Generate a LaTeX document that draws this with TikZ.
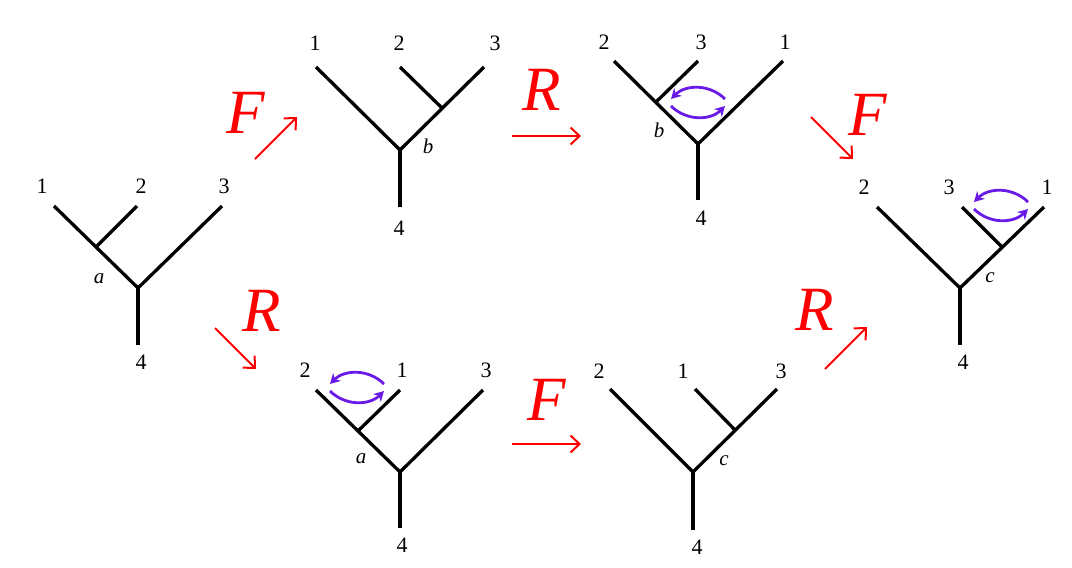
\documentclass[tikz,border=0pt]{standalone}
\usepackage{fontspec}
\setmainfont{Liberation Serif}
\usetikzlibrary{arrows.meta}
\definecolor{swapviolet}{HTML}{6A1AE6}
\tikzset{
  branch/.style={line width=3.3pt},
  num/.style={inner sep=0pt, font=\fontsize{22}{22}\selectfont},
  vtx/.style={inner sep=0pt, font=\itshape\fontsize{21}{21}\selectfont},
  move/.style={red, line width=2pt, -{Straight Barb[length=9pt,width=17pt,line width=2pt]}},
  movename/.style={red, inner sep=0pt, font=\itshape\fontsize{63}{63}\selectfont},
  swap/.style={swapviolet, line width=2.8pt, -{Stealth[length=10pt,width=11pt]}}
}
\begin{document}
\begin{tikzpicture}[x=1pt, y=-1pt]
    \useasboundingbox (0,0) rectangle (1072,568);

    % Tree a (left)
    \coordinate (a1) at (54,206);
    \coordinate (a2) at (137,206);
    \coordinate (a3) at (222,206);
    \coordinate (ai) at (96,247);
    \coordinate (ar) at (138,288);
    \coordinate (a4) at (138,345);
    \draw[branch] (a1) -- (ar) -- (a3);
    \draw[branch] (ai) -- (a2);
    \draw[branch] (ar) -- (a4);
    \node[num] (la1) at (42,186) {1};
    \node[num] (la2) at (141,186) {2};
    \node[num] (la3) at (224,186) {3};
    \node[num] (la4) at (141,362) {4};
    \node[vtx] (lai) at (99,279) {a};

    % Tree b (top)
    \coordinate (b1) at (316,67);
    \coordinate (b2) at (400,67);
    \coordinate (b3) at (484,67);
    \coordinate (bi) at (442,108);
    \coordinate (br) at (400,150);
    \coordinate (b4) at (400,207);
    \draw[branch] (b1) -- (br) -- (b3);
    \draw[branch] (bi) -- (b2);
    \draw[branch] (br) -- (b4);
    \node[num] (lb1) at (315,43) {1};
    \node[num] (lb2) at (399,43) {2};
    \node[num] (lb3) at (495,43) {3};
    \node[num] (lb4) at (399,228) {4};
    \node[vtx] (lbi) at (428,146) {b};

    % Tree b' (top right)
    \coordinate (c2) at (614,61);
    \coordinate (c3) at (698,61);
    \coordinate (c1) at (783,61);
    \coordinate (ci) at (656,102);
    \coordinate (cr) at (698,144);
    \coordinate (c4) at (698,200);
    \draw[branch] (c2) -- (cr) -- (c1);
    \draw[branch] (ci) -- (c3);
    \draw[branch] (cr) -- (c4);
    \node[num] (lc2) at (604,42) {2};
    \node[num] (lc3) at (701,42) {3};
    \node[num] (lc1) at (785,42) {1};
    \node[num] (lc4) at (701,218) {4};
    \node[vtx] (lci) at (659,130) {b};
    \coordinate (sc-l) at (671,102);
    \coordinate (sc-r) at (725,102);
    \draw[swap] ([yshift=3pt]sc-r) to[bend right=45] ([yshift=3pt]sc-l);
    \draw[swap] ([yshift=-4pt]sc-l) to[bend right=45] ([yshift=-4pt]sc-r);

    % Tree c' (right)
    \coordinate (d2) at (877,207);
    \coordinate (d3) at (962,207);
    \coordinate (d1) at (1044,207);
    \coordinate (di) at (1002,247);
    \coordinate (dr) at (960,288);
    \coordinate (d4) at (960,345);
    \draw[branch] (d2) -- (dr) -- (d1);
    \draw[branch] (di) -- (d3);
    \draw[branch] (dr) -- (d4);
    \node[num] (ld2) at (864,187) {2};
    \node[num] (ld3) at (949,187) {3};
    \node[num] (ld1) at (1047,187) {1};
    \node[num] (ld4) at (963,362) {4};
    \node[vtx] (ldi) at (990,278) {c};
    \coordinate (sd-l) at (974,205);
    \coordinate (sd-r) at (1028,205);
    \draw[swap] ([yshift=3pt]sd-r) to[bend right=45] ([yshift=3pt]sd-l);
    \draw[swap] ([yshift=-4pt]sd-l) to[bend right=45] ([yshift=-4pt]sd-r);

    % Tree a' (bottom)
    \coordinate (e2) at (316,390);
    \coordinate (e1) at (400,390);
    \coordinate (e3) at (483,390);
    \coordinate (ei) at (358,431);
    \coordinate (er) at (400,472);
    \coordinate (e4) at (400,528);
    \draw[branch] (e2) -- (er) -- (e3);
    \draw[branch] (ei) -- (e1);
    \draw[branch] (er) -- (e4);
    \node[num] (le2) at (305,370) {2};
    \node[num] (le1) at (402,370) {1};
    \node[num] (le3) at (486,370) {3};
    \node[num] (le4) at (402,545) {4};
    \node[vtx] (lei) at (361,459) {a};
    \coordinate (se-l) at (330,387);
    \coordinate (se-r) at (384,387);
    \draw[swap] ([yshift=3pt]se-r) to[bend right=45] ([yshift=3pt]se-l);
    \draw[swap] ([yshift=-4pt]se-l) to[bend right=45] ([yshift=-4pt]se-r);

    % Tree c (bottom right)
    \coordinate (f2) at (610,389);
    \coordinate (f1) at (695,389);
    \coordinate (f3) at (777,389);
    \coordinate (fi) at (735,430);
    \coordinate (fr) at (693,472);
    \coordinate (f4) at (693,530);
    \draw[branch] (f2) -- (fr) -- (f3);
    \draw[branch] (fi) -- (f1);
    \draw[branch] (fr) -- (f4);
    \node[num] (lf2) at (599,371) {2};
    \node[num] (lf1) at (683,371) {1};
    \node[num] (lf3) at (781,371) {3};
    \node[num] (lf4) at (697,547) {4};
    \node[vtx] (lfi) at (724,461) {c};

    % Moves
    \coordinate (m1s) at (255,159);
    \coordinate (m1e) at (297,117);
    \draw[move] (m1s) -- (m1e);
    \node[movename] (m1) at (246,113) {F};

    \coordinate (m2s) at (512,136);
    \coordinate (m2e) at (581,136);
    \draw[move] (m2s) -- (m2e);
    \node[movename] (m2) at (542,90) {R};

    \coordinate (m3s) at (811,117);
    \coordinate (m3e) at (853,159);
    \draw[move] (m3s) -- (m3e);
    \node[movename] (m3) at (868,115) {F};

    \coordinate (m4s) at (215,328);
    \coordinate (m4e) at (256,369);
    \draw[move] (m4s) -- (m4e);
    \node[movename] (m4) at (262,311) {R};

    \coordinate (m5s) at (512,444);
    \coordinate (m5e) at (581,444);
    \draw[move] (m5s) -- (m5e);
    \node[movename] (m5) at (547,400) {F};

    \coordinate (m6s) at (825,369);
    \coordinate (m6e) at (867,327);
    \draw[move] (m6s) -- (m6e);
    \node[movename] (m6) at (815,310) {R};
\end{tikzpicture}
\end{document}
